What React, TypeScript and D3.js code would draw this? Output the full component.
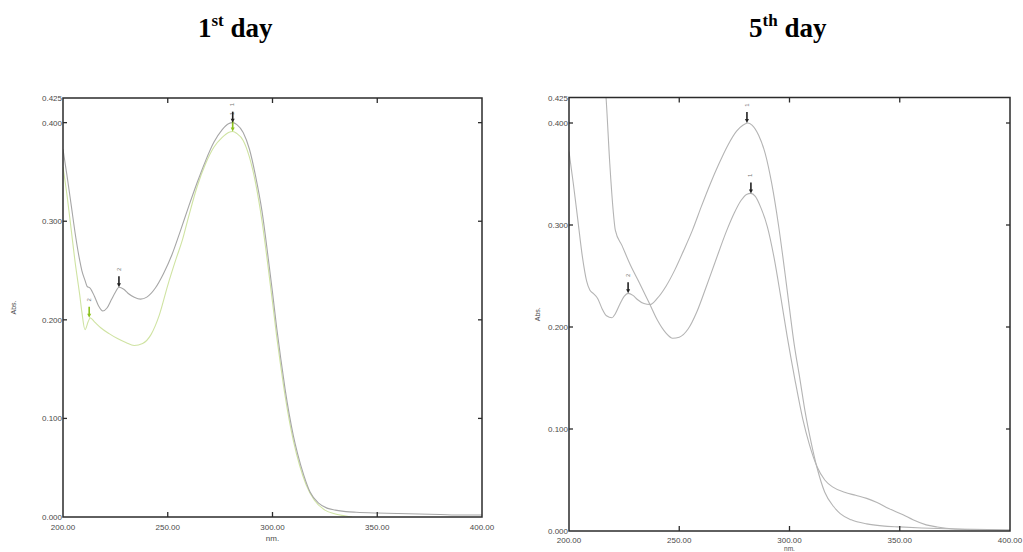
import * as d3 from 'd3';

// Wavelength (nm) / absorbance readings, day 1
const day1AWl = [200, 202, 204, 206, 208, 209, 210.5, 211.5, 213, 215, 217, 219, 221, 223, 225, 226.7, 229, 231, 234, 237, 240, 244, 248, 252, 256, 260, 264, 268, 272, 276, 279, 281, 283, 286, 289, 292, 295, 298, 300, 302, 304, 306, 308, 310, 312, 315, 318, 322, 326, 330, 335, 340, 350, 360, 370, 380, 390, 400];
const day1AAbs = [0.373, 0.345, 0.315, 0.285, 0.26, 0.25, 0.24, 0.234, 0.232, 0.224, 0.214, 0.209, 0.212, 0.22, 0.228, 0.233, 0.231, 0.227, 0.223, 0.221, 0.223, 0.232, 0.247, 0.266, 0.29, 0.315, 0.339, 0.361, 0.38, 0.393, 0.399, 0.4, 0.398, 0.39, 0.373, 0.345, 0.31, 0.262, 0.228, 0.192, 0.16, 0.13, 0.104, 0.082, 0.064, 0.042, 0.025, 0.014, 0.009, 0.007, 0.0055, 0.0048, 0.004, 0.0035, 0.003, 0.0025, 0.002, 0.002];

const day1BWl = [200, 202, 204, 206, 207, 208, 209, 210.5, 212, 213, 215, 218, 222, 226, 230, 234, 238, 242, 246, 250, 254, 257, 260, 264, 268, 272, 276, 279, 281, 283, 286, 289, 292, 295, 298, 300, 302, 304, 306, 308, 310, 313, 316, 320, 325, 330, 335, 338];
const day1BAbs = [0.355, 0.325, 0.29, 0.255, 0.24, 0.225, 0.208, 0.19, 0.198, 0.202, 0.198, 0.192, 0.186, 0.181, 0.177, 0.174, 0.176, 0.185, 0.205, 0.235, 0.262, 0.281, 0.305, 0.335, 0.358, 0.375, 0.385, 0.39, 0.391, 0.389, 0.382, 0.365, 0.338, 0.3, 0.252, 0.218, 0.183, 0.152, 0.123, 0.098, 0.077, 0.052, 0.033, 0.017, 0.007, 0.003, 0.001, 0];

// day 5
const day5AWl = [200, 202, 204, 206, 208, 209.5, 211, 213, 215, 217, 219.5, 221, 223, 225, 226.8, 229, 231, 234, 236.7, 240, 244, 248, 252, 256, 260, 264, 268, 272, 276, 279, 281, 283, 286, 289, 292, 295, 298, 300, 302, 304.8, 307, 310, 312.5, 316, 320, 323, 328, 335, 342, 350, 360, 375, 390, 400];
const day5AAbs = [0.372, 0.34, 0.305, 0.27, 0.245, 0.236, 0.233, 0.228, 0.218, 0.211, 0.209, 0.213, 0.222, 0.23, 0.233, 0.231, 0.227, 0.223, 0.222, 0.228, 0.24, 0.256, 0.275, 0.295, 0.318, 0.34, 0.36, 0.378, 0.392, 0.398, 0.4, 0.398, 0.388, 0.37, 0.34, 0.3, 0.252, 0.218, 0.185, 0.148, 0.118, 0.085, 0.062, 0.038, 0.024, 0.017, 0.011, 0.007, 0.005, 0.004, 0.003, 0.002, 0.0015, 0.001];

const day5BWl = [200, 205, 210, 214, 216.8, 218.5, 220, 221, 224, 228, 232, 236.7, 240, 244, 247, 250, 254, 258, 262, 266, 271.6, 275, 278, 280.5, 282.5, 284.5, 287, 290, 293, 296, 299, 302.5, 306, 309, 312.5, 316, 319.7, 325, 330, 335, 339.7, 345, 351.5, 356, 362, 367, 375, 385, 400];
const day5BAbs = [0.9, 0.72, 0.58, 0.48, 0.425, 0.36, 0.315, 0.295, 0.28, 0.26, 0.243, 0.222, 0.207, 0.194, 0.189, 0.19, 0.198, 0.215, 0.238, 0.262, 0.295, 0.312, 0.324, 0.33, 0.331, 0.328, 0.317, 0.298, 0.268, 0.23, 0.19, 0.148, 0.11, 0.085, 0.063, 0.05, 0.043, 0.038, 0.035, 0.032, 0.028, 0.022, 0.016, 0.011, 0.006, 0.004, 0.002, 0.0012, 0.001];

// peak picks: [wavelength, absorbance, label]
const day1APeaks: [number, number, string][] = [[281, 0.4, '1'], [226.7, 0.233, '2']];
const day1BPeaks: [number, number, string][] = [[281, 0.391, '1'], [212.5, 0.202, '2']];
const day5APeaks: [number, number, string][] = [[280.7, 0.4, '1'], [226.8, 0.233, '2']];
const day5BPeaks: [number, number, string][] = [[282.5, 0.331, '1']];

const xTicks = [200, 250, 300, 350, 400];
const yTicks = [0, 0.1, 0.2, 0.3, 0.4, 0.425];

const tickFont = "'Liberation Sans Narrow', 'Liberation Sans', Arial, sans-serif";

type Series = { wl: number[]; abs: number[]; color: string; peaks: [number, number, string][]; markColor: string };

function Panel({ id, left, right, top, bottom, series, xLabelY, nmY, nmSize, absX }: {
  id: string; left: number; right: number; top: number; bottom: number;
  series: Series[]; xLabelY: number; nmY: number; nmSize: number; absX: number;
}) {
  const x = d3.scaleLinear().domain([200, 400]).range([left, right]);
  const y = d3.scaleLinear().domain([0, 0.425]).range([bottom, top]);
  const line = d3.line<[number, number]>()
    .x(d => x(d[0]))
    .y(d => y(d[1]))
    .curve(d3.curveMonotoneX);

  return (
    <g>
      <defs>
        <clipPath id={id}>
          <rect x={left} y={top} width={right - left} height={bottom - top} />
        </clipPath>
      </defs>
      <g clipPath={`url(#${id})`}>
        {series.map((s, i) => (
          <path key={i} d={line(s.wl.map((w, j) => [w, s.abs[j]] as [number, number])) || ''}
            fill="none" stroke={s.color} strokeWidth={1.1} />
        ))}
      </g>
      {series.map((s, i) => s.peaks.map((p, j) => {
        const px = x(p[0]);
        const py = y(p[1]);
        return (
          <g key={`${i}-${j}`}>
            <line x1={px} x2={px} y1={py - 11} y2={py - 3} stroke={s.markColor} strokeWidth={1.6} />
            <path d={`M${px - 2},${py - 4}L${px + 2},${py - 4}L${px},${py}Z`} fill={s.markColor} />
            <text x={px} y={py - 18} fontSize={6} fontFamily={tickFont} fill="#777"
              textAnchor="middle" dominantBaseline="middle"
              transform={`rotate(-90 ${px} ${py - 18})`}>{p[2]}</text>
          </g>
        );
      }))}
      <rect x={left} y={top} width={right - left} height={bottom - top} fill="none" stroke="#2b2b2b" strokeWidth={1.5} />
      {xTicks.slice(1, -1).map(t => (
        <g key={t}>
          <line x1={x(t)} x2={x(t)} y1={bottom} y2={bottom - 5} stroke="#2b2b2b" strokeWidth={1.3} />
          <line x1={x(t)} x2={x(t)} y1={top} y2={top + 5} stroke="#2b2b2b" strokeWidth={1.3} />
        </g>
      ))}
      {yTicks.slice(1, -1).map(t => (
        <g key={t}>
          <line x1={left} x2={left + 4} y1={y(t)} y2={y(t)} stroke="#2b2b2b" strokeWidth={1.3} />
          <line x1={right} x2={right - 4} y1={y(t)} y2={y(t)} stroke="#2b2b2b" strokeWidth={1.3} />
        </g>
      ))}
      {xTicks.map(t => (
        <text key={t} x={x(t)} y={xLabelY} fontSize={8} fontFamily={tickFont} fill="#4a4a4a" textAnchor="middle">
          {t.toFixed(2)}
        </text>
      ))}
      {yTicks.map(t => (
        <text key={t} x={left - 1} y={y(t) + 3} fontSize={8} fontFamily={tickFont} fill="#4a4a4a" textAnchor="end">
          {t.toFixed(3)}
        </text>
      ))}
      <text x={(left + right) / 2} y={nmY} fontSize={nmSize} fontFamily={tickFont} fill="#4a4a4a" textAnchor="middle">nm.</text>
      <text x={absX} y={(top + bottom) / 2} fontSize={7} fontFamily={tickFont} fill="#4a4a4a" textAnchor="middle"
        transform={`rotate(-90 ${absX} ${(top + bottom) / 2})`}>Abs.</text>
    </g>
  );
}

function Title({ x, y, num, sup }: { x: number; y: number; num: string; sup: string }) {
  return (
    <text x={x} y={y} fontFamily="'Liberation Serif', 'Times New Roman', serif" fontWeight="bold" fontSize={27} fill="#000">
      <tspan>{num}</tspan>
      <tspan dy={-11} fontSize={17}>{sup}</tspan>
      <tspan dy={11}> day</tspan>
    </text>
  );
}

export default function App() {
  const grey = '#a6a6a6';
  return (
    <svg width={1023} height={552} style={{ position: 'absolute', left: 0, top: 0, background: '#fff' }}>
      <Title x={198} y={37} num="1" sup="st" />
      <Title x={749} y={37} num="5" sup="th" />
      <Panel id="c1" left={63} right={482} top={98} bottom={517}
        xLabelY={530} nmY={541} nmSize={8} absX={16}
        series={[
          { wl: day1BWl, abs: day1BAbs, color: '#cfe3a2', peaks: day1BPeaks, markColor: '#8cc21c' },
          { wl: day1AWl, abs: day1AAbs, color: grey, peaks: day1APeaks, markColor: '#222' },
        ]} />
      <Panel id="c2" left={569} right={1010} top={97.5} bottom={531}
        xLabelY={543} nmY={551} nmSize={6.5} absX={540}
        series={[
          { wl: day5AWl, abs: day5AAbs, color: '#b4b4b4', peaks: day5APeaks, markColor: '#222' },
          { wl: day5BWl, abs: day5BAbs, color: '#b4b4b4', peaks: day5BPeaks, markColor: '#222' },
        ]} />
    </svg>
  );
}
